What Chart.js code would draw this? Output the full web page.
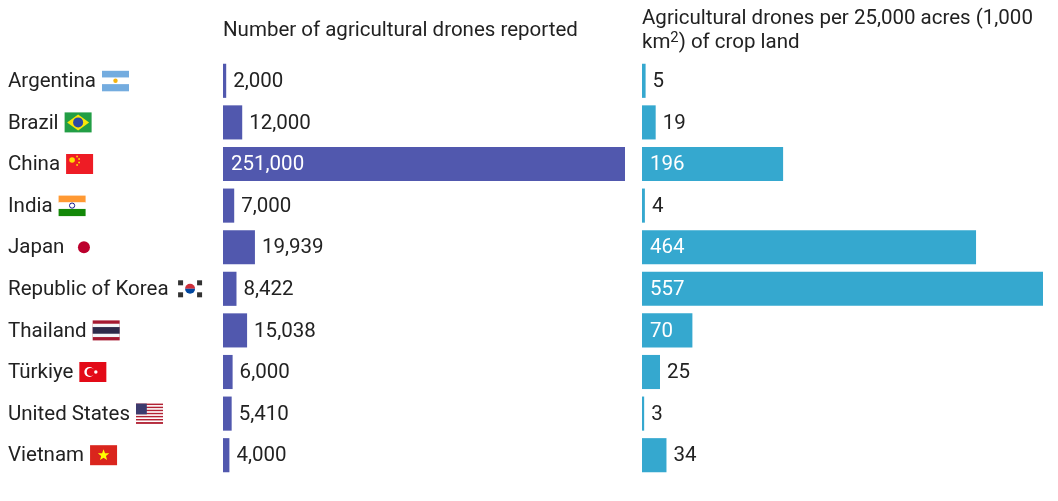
<!DOCTYPE html>
<html>
<head>
<meta charset="utf-8">
<script src="https://cdn.jsdelivr.net/npm/chart.js@4/dist/chart.umd.min.js"></script>
<style>
  html, body { margin: 0; padding: 0; background: #fff; }
  #wrap { position: relative; width: 1058px; height: 501px; }
  #left { position: absolute; left: 0; top: 0; }
  #right { position: absolute; left: 630px; top: 0; }
</style>
</head>
<body>
<div id="wrap">
  <canvas id="left" width="630" height="501"></canvas>
  <canvas id="right" width="428" height="501"></canvas>
</div>
<script>
const countries = ['Argentina', 'Brazil', 'China', 'India', 'Japan', 'Republic of Korea', 'Thailand', 'Türkiye', 'United States', 'Vietnam'];
const flagCodes = ['ar', 'br', 'cn', 'in', 'jp', 'kr', 'th', 'tr', 'us', 'vn'];
const droneCounts = [2000, 12000, 251000, 7000, 19939, 8422, 15038, 6000, 5410, 4000];
const dronesPerArea = [5, 19, 196, 4, 464, 557, 70, 25, 3, 34];

// each title line is a list of [text, isSuperscript]
const leftTitle = [[['Number of agricultural drones reported', false]]];
const rightTitle = [
  [['Agricultural drones per 25,000 acres (1,000', false]],
  [['km', false], ['2', true], [') of crop land', false]],
];

const FONT = 'Roboto, "Noto Sans", sans-serif';
const FS = 20.5;
const TEXT = '#222';

// tiny flag drawings next to country names
const drawFlag = (ctx, code, x, y) => {
  const w = 27, h = 20, t = y - h / 2;
  ctx.save();
  const band = (cols) => {
    const bh = h / cols.length;
    cols.forEach((c, i) => { ctx.fillStyle = c; ctx.fillRect(x, t + i * bh, w, bh + 0.5); });
  };
  if (code === 'ar') {
    band(['#74acdf', '#fff', '#74acdf']);
    ctx.fillStyle = '#f6b40e'; ctx.beginPath(); ctx.arc(x + w / 2, y, 2.2, 0, 7); ctx.fill();
  } else if (code === 'br') {
    ctx.fillStyle = '#229e45'; ctx.fillRect(x, t, w, h);
    ctx.fillStyle = '#f8e509'; ctx.beginPath();
    ctx.moveTo(x + 2.5, y); ctx.lineTo(x + w / 2, t + 2); ctx.lineTo(x + w - 2.5, y); ctx.lineTo(x + w / 2, t + h - 2); ctx.fill();
    ctx.fillStyle = '#2b49a3'; ctx.beginPath(); ctx.arc(x + w / 2, y, 5, 0, 7); ctx.fill();
  } else if (code === 'cn') {
    ctx.fillStyle = '#ee1c25'; ctx.fillRect(x, t, w, h);
    ctx.fillStyle = '#ffde00'; ctx.beginPath(); ctx.arc(x + 6, t + 6, 2.8, 0, 7); ctx.fill();
    [[11, 2.5], [13, 5], [13, 8.5], [11, 11]].forEach(([a, b]) => { ctx.beginPath(); ctx.arc(x + a, t + b, 0.9, 0, 7); ctx.fill(); });
  } else if (code === 'in') {
    band(['#ff9933', '#fff', '#138808']);
    ctx.strokeStyle = '#000080'; ctx.lineWidth = 0.9; ctx.beginPath(); ctx.arc(x + w / 2, y, 2.6, 0, 7); ctx.stroke();
  } else if (code === 'jp') {
    ctx.fillStyle = '#bc002d'; ctx.beginPath(); ctx.arc(x + w / 2, y, 6, 0, 7); ctx.fill();
  } else if (code === 'kr') {
    ctx.fillStyle = '#cd2e3a'; ctx.beginPath(); ctx.arc(x + w / 2, y, 5, Math.PI, 0); ctx.fill();
    ctx.fillStyle = '#0047a0'; ctx.beginPath(); ctx.arc(x + w / 2, y, 5, 0, Math.PI); ctx.fill();
    ctx.fillStyle = '#333';
    [[4, -6], [23, -6], [4, 6], [23, 6]].forEach(([a, b]) => ctx.fillRect(x + a - 2.5, y + b - 2.5, 5, 5));
  } else if (code === 'th') {
    const s = h / 6;
    ctx.fillStyle = '#a51931'; ctx.fillRect(x, t, w, h);
    ctx.fillStyle = '#f4f5f8'; ctx.fillRect(x, t + s, w, h - 2 * s);
    ctx.fillStyle = '#2d2a4a'; ctx.fillRect(x, t + 2 * s, w, 2 * s);
  } else if (code === 'tr') {
    ctx.fillStyle = '#e30a17'; ctx.fillRect(x, t, w, h);
    ctx.fillStyle = '#fff'; ctx.beginPath(); ctx.arc(x + 10, y, 5, 0, 7); ctx.fill();
    ctx.fillStyle = '#e30a17'; ctx.beginPath(); ctx.arc(x + 11.4, y, 4, 0, 7); ctx.fill();
    ctx.fillStyle = '#fff'; ctx.beginPath(); ctx.arc(x + 16.5, y, 1.7, 0, 7); ctx.fill();
  } else if (code === 'us') {
    const s = h / 13;
    for (let i = 0; i < 13; i++) { ctx.fillStyle = i % 2 ? '#fff' : '#b22234'; ctx.fillRect(x, t + i * s, w, s + 0.3); }
    ctx.fillStyle = '#3c3b6e'; ctx.fillRect(x, t, w * 0.4, s * 7);
  } else if (code === 'vn') {
    ctx.fillStyle = '#da251d'; ctx.fillRect(x, t, w, h);
    ctx.fillStyle = '#ffff00'; ctx.beginPath();
    for (let i = 0; i < 10; i++) {
      const r = i % 2 ? 2.5 : 6, a = -Math.PI / 2 + i * Math.PI / 5;
      ctx.lineTo(x + w / 2 + r * Math.cos(a), y + r * Math.sin(a));
    }
    ctx.fill();
  }
  ctx.restore();
};

const barLabels = {
  id: 'barLabels',
  afterDatasetsDraw(chart) {
    const ctx = chart.ctx;
    const meta = chart.getDatasetMeta(0);
    const values = chart.data.datasets[0].data;
    ctx.save();
    ctx.font = FS + 'px ' + FONT;
    ctx.textBaseline = 'middle';
    ctx.textAlign = 'left';
    meta.data.forEach((bar, i) => {
      const txt = values[i].toLocaleString('en-US');
      const tw = ctx.measureText(txt).width;
      const bw = bar.x - bar.base;
      if (bw > tw + 16) {
        ctx.fillStyle = '#fff';
        ctx.fillText(txt, bar.base + 8, bar.y + 1);
      } else {
        ctx.fillStyle = TEXT;
        ctx.fillText(txt, bar.x + 7, bar.y + 1);
      }
    });
    ctx.restore();
  }
};

const titleText = {
  id: 'titleText',
  afterDraw(chart, args, opts) {
    const ctx = chart.ctx;
    ctx.save();
    ctx.fillStyle = TEXT;
    ctx.textBaseline = 'middle';
    opts.lines.forEach((parts, i) => {
      let x = chart.chartArea.left;
      const y = opts.y + i * 24;
      parts.forEach(([txt, sup]) => {
        ctx.font = (sup ? FS * 0.72 : FS) + 'px ' + FONT;
        ctx.fillText(txt, x, sup ? y - 5 : y);
        x += ctx.measureText(txt).width;
      });
    });
    ctx.restore();
  }
};

const countryLabels = {
  id: 'countryLabels',
  afterDraw(chart) {
    const ctx = chart.ctx;
    const yScale = chart.scales.y;
    ctx.save();
    ctx.font = FS + 'px ' + FONT;
    ctx.textBaseline = 'middle';
    countries.forEach((name, i) => {
      const y = yScale.getPixelForValue(i);
      ctx.fillStyle = TEXT;
      ctx.fillText(name, 8, y + 1);
      const w = ctx.measureText(name).width;
      const gap = flagCodes[i] === 'kr' ? 8 : 6;
      drawFlag(ctx, flagCodes[i], 8 + w + gap, y);
    });
    ctx.restore();
  }
};

const makeChart = (id, values, color, max, padLeft, padRight, titleLines, titleY, extra) => new Chart(document.getElementById(id), {
  type: 'bar',
  data: {
    labels: countries,
    datasets: [{
      data: values,
      backgroundColor: color,
      borderWidth: 0,
      barPercentage: 1,
      categoryPercentage: 0.82,
    }],
  },
  options: {
    indexAxis: 'y',
    responsive: false,
    animation: false,
    layout: { padding: { left: padLeft, right: padRight, top: 60, bottom: 25 } },
    scales: {
      x: { display: false, min: 0, max: max },
      y: { display: false },
    },
    plugins: {
      legend: { display: false },
      tooltip: { enabled: false },
      titleText: { lines: titleLines, y: titleY },
    },
  },
  plugins: [barLabels, titleText].concat(extra),
});

makeChart('left', droneCounts, '#5158ae', 251000, 223, 5, leftTitle, 31, [countryLabels]);
makeChart('right', dronesPerArea, '#35a8cf', 557, 12, 15, rightTitle, 19, []);
</script>
</body>
</html>
